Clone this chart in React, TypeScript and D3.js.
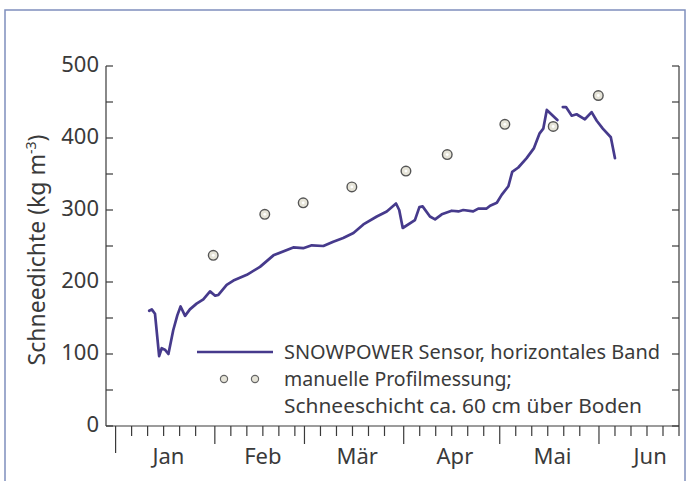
import * as d3 from "d3";

// days counted from 1 Jan (0 = start of 1 Jan)
const sensorDays = [
  10.5, 11.3, 12.3, 13.6, 14.4, 15.4, 16.5, 18.0, 19.3, 20.3, 21.7, 23.2, 25.3, 27.4, 29.5,
  31.1, 32.1, 34.7, 36.8, 41.0, 45.1, 49.3, 55.5, 58.6, 61.3, 64.9, 68.0, 71.1, 74.3, 77.4,
  81.6, 84.7, 87.6, 88.6, 89.7, 93.5, 94.9, 95.9, 98.2, 99.8, 101.9, 105.0, 107.1, 108.6,
  111.7, 113.3, 115.9, 117.0, 119.1, 120.6, 122.7, 123.9, 125.8, 128.4, 130.7, 132.4, 133.6,
  134.7, 138.0, 139.0,
  139.7, 140.7, 142.5, 144.0, 146.6, 148.7, 150.3, 152.2, 154.7, 156.0,
];
const sensorValues = [
  160, 162, 156, 97, 108, 106, 100, 133, 154, 166, 153, 162, 170, 176, 187,
  181, 182, 196, 202, 210, 221, 237, 248, 247, 251, 250, 256, 261, 268, 280,
  291, 298, 309, 300, 275, 286, 304, 305, 291, 287, 294, 299, 298, 300,
  298, 302, 302, 306, 310, 321, 333, 353, 359, 372, 386, 406, 413,
  439, 425, null,
  443, 443, 431, 433, 426, 436, 424, 413, 401, 372,
];

const manualDays = [30.5, 46.6, 58.6, 73.8, 90.7, 103.6, 121.6, 136.7, 150.8];
const manualValues = [237, 294, 310, 332, 354, 377, 419, 416, 459];

const monthNames = ["Jan", "Feb", "Mär", "Apr", "Mai", "Jun"];
const monthStarts = [0, 31, 59, 90, 120, 151];
const monthLengths = [31, 28, 31, 30, 31, 30];
const yLabels = [0, 100, 200, 300, 400, 500];

const legendLine = "SNOWPOWER Sensor, horizontales Band";
const legendDots = ["manuelle Profilmessung;", "Schneeschicht ca. 60 cm über Boden"];

const W = 688;
const H = 481;
const left = 106, right = 679, top = 66, bottom = 426;
const font = "'Noto Sans', sans-serif";
const ink = "#3a3a3a";
const lineColor = "#463a8c";

export default function App() {
  const x = d3.scaleLinear().domain([-3, 176]).range([left, right]);
  const y = d3.scaleLinear().domain([0, 500]).range([bottom, top]);

  const pts = sensorDays.map((d, i) => ({ d, v: sensorValues[i] }));
  const line = d3.line<{ d: number; v: number | null }>()
    .defined(p => p.v != null)
    .x(p => x(p.d))
    .y(p => y(p.v as number));

  const yTicks = d3.range(0, 501, 50);
  const minorTicks: number[] = [];
  monthStarts.forEach((s, i) => {
    [5, 10, 15, 20, 25].forEach(o => {
      if (o < monthLengths[i] && s + o <= 176) minorTicks.push(s + o);
    });
  });

  return (
    <svg width={W} height={H} style={{ position: "absolute", left: 0, top: 0, background: "#fff" }}
      fontFamily={font}>
      <rect x={5} y={10} width={680} height={480} fill="none" stroke="#7f8fbd" strokeWidth={1.5} />

      {/* axes */}
      <g stroke={ink} strokeWidth={1.2} fill="none">
        <line x1={left} y1={top} x2={left} y2={bottom} />
        <line x1={right} y1={top} x2={right} y2={bottom} />
        <line x1={left} y1={bottom} x2={right} y2={bottom} />
        {yTicks.map(t => (
          <g key={t}>
            <line x1={left} x2={left + 7} y1={y(t)} y2={y(t)} />
            <line x1={right} x2={right - 7} y1={y(t)} y2={y(t)} />
          </g>
        ))}
        {monthStarts.map((s, i) => (
          <line key={"m" + s} x1={x(s)} x2={x(s)} y1={bottom} y2={bottom + (i === 0 ? 27 : 18)} />
        ))}
        {minorTicks.map(t => (
          <line key={"n" + t} x1={x(t)} x2={x(t)} y1={bottom} y2={bottom + 10} />
        ))}
      </g>

      <g fill={ink} fontSize={22}>
        {yLabels.map(t => (
          <text key={t} x={left - 7} y={y(t) + 6} textAnchor="end">{t}</text>
        ))}
        {monthNames.map((m, i) => (
          <text key={m} x={x(monthStarts[i] + monthLengths[i] / 2 + 1)} y={464} textAnchor="middle">{m}</text>
        ))}
        <text transform="translate(45,250) rotate(-90)" textAnchor="middle" fontSize={23}>
          Schneedichte (kg m<tspan dy={-9} fontSize={14}>-3</tspan><tspan dy={9}>)</tspan>
        </text>
      </g>

      <path d={line(pts) || ""} fill="none" stroke={lineColor} strokeWidth={2.7}
        strokeLinejoin="round" strokeLinecap="round" />

      {manualDays.map((d, i) => (
        <g key={i}>
          <circle cx={x(d)} cy={y(manualValues[i])} r={4.8} fill="#e6e4d8" stroke="#555" strokeWidth={1.4} />
          <circle cx={x(d)} cy={y(manualValues[i])} r={1.4} fill="#fff" />
        </g>
      ))}

      {/* legend */}
      <g fill={ink} fontSize={19.5}>
        <line x1={197} x2={273} y1={352} y2={352} stroke={lineColor} strokeWidth={2.7} />
        <text x={284} y={359} textLength={376} lengthAdjust="spacingAndGlyphs">{legendLine}</text>
        <circle cx={224} cy={379} r={3.6} fill="#e6e4d8" stroke="#666" strokeWidth={1.2} />
        <circle cx={255} cy={379} r={3.6} fill="#e6e4d8" stroke="#666" strokeWidth={1.2} />
        <text x={284} y={386}>{legendDots[0]}</text>
        <text x={284} y={413} textLength={358} lengthAdjust="spacingAndGlyphs">{legendDots[1]}</text>
      </g>
    </svg>
  );
}
